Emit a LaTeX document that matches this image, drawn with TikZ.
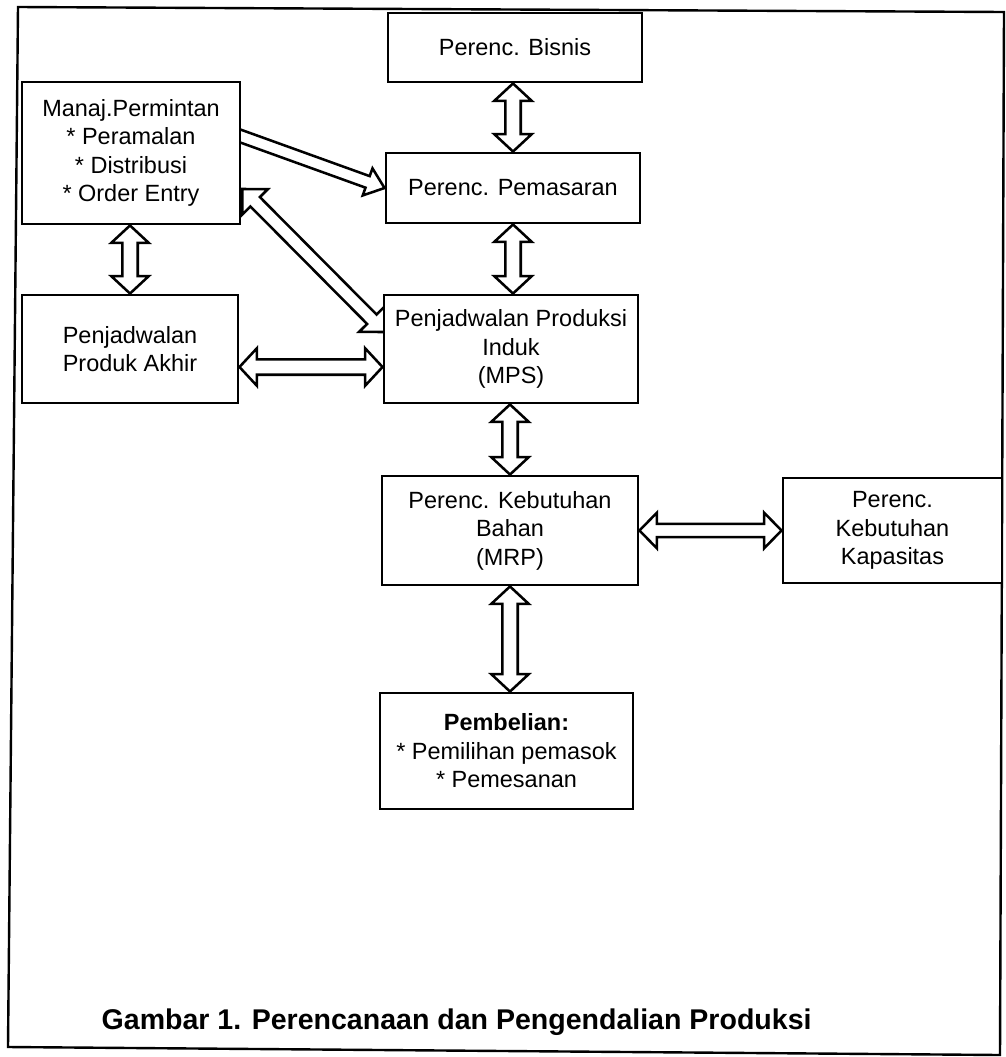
\documentclass[tikz,border=0pt]{standalone}
\usepackage{fontspec}
\setmainfont{Liberation Sans}
\usetikzlibrary{calc}
\pgfdeclarelayer{bg}
\pgfsetlayers{bg,main}

\tikzset{
  box/.style={draw, line width=2.2pt, fill=white, inner sep=0pt, align=center,
    font=\fontsize{17.6}{21.4}\selectfont},
  arr/.style={draw, line width=1.9pt, fill=white, line join=miter},
  frame/.style={draw, line width=1.8pt},
  caption/.style={anchor=base west, font=\bfseries\fontsize{21.4}{25}\selectfont},
}

% #1 start, #2 end, #3 shaft half width (pt), #4 head half width (pt), #5 head length (pt)
\newcommand\dblarrow[5]{%
  \pgfmathsetmacro\rH{sqrt((#4)^2+(#5)^2)}%
  \pgfmathsetmacro\aH{atan((#4)/(#5))}%
  \pgfmathsetmacro\rW{sqrt((#3)^2+(#5)^2)}%
  \pgfmathsetmacro\aW{atan((#3)/(#5))}%
  \draw[arr] (#1) -- ($(#1)!\rH pt!\aH:(#2)$) -- ($(#1)!\rW pt!\aW:(#2)$)
    -- ($(#2)!\rW pt!-\aW:(#1)$) -- ($(#2)!\rH pt!-\aH:(#1)$) -- (#2)
    -- ($(#2)!\rH pt!\aH:(#1)$) -- ($(#2)!\rW pt!\aW:(#1)$)
    -- ($(#1)!\rW pt!-\aW:(#2)$) -- ($(#1)!\rH pt!-\aH:(#2)$) -- cycle;}

\newcommand\sglarrow[5]{%
  \pgfmathsetmacro\rH{sqrt((#4)^2+(#5)^2)}%
  \pgfmathsetmacro\aH{atan((#4)/(#5))}%
  \pgfmathsetmacro\rW{sqrt((#3)^2+(#5)^2)}%
  \pgfmathsetmacro\aW{atan((#3)/(#5))}%
  \draw[arr] ($(#1)!#3pt!90:(#2)$) -- ($(#2)!\rW pt!-\aW:(#1)$)
    -- ($(#2)!\rH pt!-\aH:(#1)$) -- (#2) -- ($(#2)!\rH pt!\aH:(#1)$)
    -- ($(#2)!\rW pt!\aW:(#1)$) -- ($(#1)!#3pt!-90:(#2)$) -- cycle;}

\begin{document}
\begin{tikzpicture}[x=0.75pt, y=-0.75pt]
\useasboundingbox (0,0) rectangle (1006,1057);

\draw[frame] (18,7) -- (1004,12) -- (1000,1055) -- (8,1047) -- cycle;

\node[box, minimum width=190.5pt, minimum height=51.75pt] (bisnis) at (515,47.5) {Perenc. Bisnis};
\node[box, minimum width=163.5pt, minimum height=106.5pt] (manaj) at (131,153)
  {Manaj.Permintan\\* Peramalan\\* Distribusi\\* Order Entry};
\node[box, minimum width=190.5pt, minimum height=52.5pt] (pemasaran) at (513,188) {Perenc. Pemasaran};
\node[box, minimum width=162pt, minimum height=81pt] (akhir) at (130,349) {Penjadwalan\\Produk Akhir};
\node[box, minimum width=190.5pt, minimum height=81pt] (mps) at (511,349)
  {Penjadwalan Produksi\\Induk\\(MPS)};
\node[box, minimum width=192pt, minimum height=81.75pt] (mrp) at (510,530.5)
  {Perenc. Kebutuhan\\Bahan\\(MRP)};
\node[box, minimum width=164.25pt, minimum height=78.75pt] (kap) at (892.5,530.5)
  {Perenc.\\Kebutuhan\\Kapasitas};
\node[box, minimum width=189.75pt, minimum height=87pt] (pemb) at (506.5,751)
  {\textbf{Pembelian:}\\* Pemilihan pemasok\\* Pemesanan};

\node[caption] (cap) at (97,1029) {Gambar 1. Perencanaan dan Pengendalian Produksi};

\begin{pgfonlayer}{bg}
  \coordinate (a1s) at (pemasaran.north |- bisnis.south);
  \dblarrow{a1s}{pemasaran.north}{5.8}{14}{13}
  \coordinate (a2e) at (pemasaran.south |- mps.north);
  \dblarrow{pemasaran.south}{a2e}{5.8}{14}{13}
  \coordinate (a3s) at (mrp.north |- mps.south);
  \dblarrow{a3s}{mrp.north}{5.8}{14}{13}
  \coordinate (a4e) at (mrp.south |- pemb.north);
  \dblarrow{mrp.south}{a4e}{5.8}{14}{13}
  \coordinate (a5s) at (akhir.north |- manaj.south);
  \dblarrow{a5s}{akhir.north}{5.8}{14}{13}
  \coordinate (h1s) at ([yshift=-13.5pt]akhir.east);
  \coordinate (h1e) at (h1s -| mps.west);
  \dblarrow{h1s}{h1e}{5.8}{14}{13}
  \dblarrow{mrp.east}{kap.west}{5}{13.3}{13}
  \coordinate (d1s) at ([xshift=-11.25pt, yshift=16.5pt]manaj.east);
  \sglarrow{d1s}{pemasaran.west}{4.6}{10.8}{13.5}
  \coordinate (d2s) at ([xshift=0.75pt, yshift=-27pt]manaj.east);
  \coordinate (d2e) at ([xshift=1.5pt, yshift=12.75pt]mps.west);
  \dblarrow{d2s}{d2e}{5}{13.5}{13.5}
\end{pgfonlayer}
\end{tikzpicture}
\end{document}
